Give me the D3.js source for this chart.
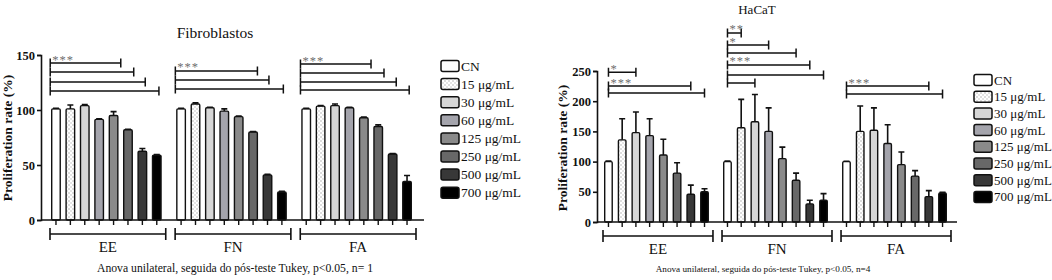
<!DOCTYPE html>
<html>
<head>
<meta charset="utf-8">
<script src="https://cdn.jsdelivr.net/npm/d3@7"></script>
<style>
  body { margin: 0; background: #fff; }
  svg text { font-family: "Liberation Serif", "Times New Roman", serif; fill: #111; }
</style>
</head>
<body>
<div id="chart"></div>
<script>
// categories
const groups = ["EE", "FN", "FA"];
const doses = ["CN", "15 μg/mL", "30 μg/mL", "60 μg/mL", "125 μg/mL", "250 μg/mL", "500 μg/mL", "700 μg/mL"];
const doseColors = ["#ffffff", "#ffffff", "#d6d6d6", "#a4a4ac", "#8a8a8a", "#686868", "#383838", "#000000"];

// Fibroblastos (n = 1)
const fibroTicks = [0, 50, 100, 150];
const fibroEE = [101, 101, 104, 91.5, 95, 82, 62.5, 59];
const fibroEEErr = [0.5, 3.5, 1, 0.5, 3.5, 0.5, 2.5, 0.5];
const fibroFN = [101, 105.5, 102, 99, 94, 80, 41, 25.5];
const fibroFNErr = [0.5, 1, 0.5, 2, 0.5, 0.5, 0.5, 0.5];
const fibroFA = [101, 103.5, 104, 102, 93, 85, 60, 35];
const fibroFAErr = [0.5, 0.5, 1.5, 0.5, 0.5, 1.5, 0.5, 5.5];
const fibroBrackets = [
  { group: "EE", level: 142.7, from: -0.4, to: 4.5, stars: "***" },
  { group: "EE", level: 134.5, from: -0.4, to: 5.4, stars: "" },
  { group: "EE", level: 125.5, from: -0.4, to: 6.2, stars: "" },
  { group: "EE", level: 117.3, from: -0.4, to: 7.15, stars: "" },
  { group: "FN", level: 135.5, from: -0.4, to: 5.3, stars: "***" },
  { group: "FN", level: 127.3, from: -0.4, to: 6.1, stars: "" },
  { group: "FN", level: 119, from: -0.4, to: 7.1, stars: "" },
  { group: "FA", level: 141.8, from: -0.4, to: 4.5, stars: "***" },
  { group: "FA", level: 133.6, from: -0.4, to: 5.4, stars: "" },
  { group: "FA", level: 125.5, from: -0.4, to: 6.25, stars: "" },
  { group: "FA", level: 118.2, from: -0.4, to: 7.15, stars: "" }
];

// HaCaT (n = 4)
const hacatTicks = [0, 50, 100, 150, 200, 250];
const hacatEE = [100, 136, 148, 143, 111, 81, 46, 50];
const hacatEEErr = [1, 35, 34, 28, 26, 17, 15, 5];
const hacatFN = [100, 156, 166, 150, 105, 69, 30, 36];
const hacatFNErr = [1, 47, 45, 39, 19, 12, 6, 11];
const hacatFA = [100, 150, 152, 130, 95, 76, 42, 48];
const hacatFAErr = [0.5, 42, 37, 31, 21, 9, 10, 1];
const hacatBrackets = [
  { group: "EE", level: 248, from: 0, to: 2, stars: "*" },
  { group: "EE", level: 225, from: 0, to: 6, stars: "***" },
  { group: "EE", level: 213.5, from: 0, to: 7, stars: "" },
  { group: "FN", level: 313, from: 0, to: 1, stars: "**" },
  { group: "FN", level: 293, from: 0, to: 3, stars: "*" },
  { group: "FN", level: 280, from: 0, to: 5, stars: "" },
  { group: "FN", level: 260, from: 0, to: 6, stars: "***" },
  { group: "FN", level: 243.5, from: 0, to: 7, stars: "" },
  { group: "FN", level: 230, from: 0, to: 2, stars: "" },
  { group: "FA", level: 225, from: 0, to: 6, stars: "***" },
  { group: "FA", level: 212, from: 0, to: 7, stars: "" }
];

const svg = d3.select("#chart").append("svg")
  .attr("width", 1052).attr("height", 280);

// dotted fill for the 15 μg/mL bars
const pat = svg.append("defs").append("pattern")
  .attr("id", "dots").attr("patternUnits", "userSpaceOnUse")
  .attr("width", 4).attr("height", 4);
pat.append("rect").attr("width", 4).attr("height", 4).attr("fill", "#fff");
pat.append("rect").attr("x", 0.5).attr("y", 0.5).attr("width", 1).attr("height", 1).attr("fill", "#777");
pat.append("rect").attr("x", 2.5).attr("y", 2.5).attr("width", 1).attr("height", 1).attr("fill", "#999");

function fillFor(i) { return i == 1 ? "url(#dots)" : doseColors[i]; }

function drawPanel(cfg) {
  let g = svg.append("g");

  let y = d3.scaleLinear().domain([0, cfg.max]).range([cfg.base, cfg.top]);
  let x0 = d3.scaleBand().domain(groups)
    .range([cfg.left, cfg.right]).paddingInner(cfg.groupPad).paddingOuter(0);
  let x1 = d3.scaleBand().domain(d3.range(doses.length))
    .range([0, x0.bandwidth()]).paddingInner(cfg.barPad).paddingOuter(0);
  let bw = x1.bandwidth();
  let barX = (grp, i) => x0(grp) + i * x1.step();   // fractional index allowed

  // title
  g.append("text").attr("x", cfg.titleX).attr("y", cfg.titleY)
    .attr("text-anchor", "middle").style("font-size", cfg.titleSize + "px")
    .text(cfg.title);

  // y axis
  let yAxis = g.append("g").attr("transform", "translate(" + cfg.axisX + ",0)")
    .call(d3.axisLeft(y).tickValues(cfg.ticks).tickSize(4).tickPadding(2));
  yAxis.select(".domain").attr("stroke", "#111").attr("stroke-width", 1.6);
  yAxis.selectAll(".tick line").attr("stroke", "#111").attr("stroke-width", 1.6);
  yAxis.selectAll(".tick text")
    .style("font-family", '"Liberation Serif", serif')
    .style("font-weight", "bold").style("font-size", "12.5px").attr("fill", "#111");

  g.append("text")
    .attr("transform", "translate(" + cfg.labelX + "," + cfg.labelY + ") rotate(-90)")
    .attr("text-anchor", "middle").style("font-weight", "bold").style("font-size", "13.5px")
    .text("Proliferation rate (%)");

  // bars
  cfg.series.forEach((s, gi) => {
    let grp = groups[gi];
    let bars = g.append("g");
    bars.selectAll("rect").data(s.mean).enter().append("rect")
      .attr("x", (d, i) => barX(grp, i) + 0.7)
      .attr("width", bw - 1.4)
      .attr("y", d => y(d))
      .attr("height", d => cfg.base - y(d))
      .attr("rx", 1.2)
      .attr("fill", (d, i) => fillFor(i))
      .attr("stroke", "#111").attr("stroke-width", 1.4);

    // error bars (upward only)
    bars.selectAll("path.err").data(s.mean).enter().append("path")
      .attr("class", "err")
      .attr("d", (d, i) => {
        let cx = barX(grp, i) + bw / 2, top = y(d + s.err[i]);
        return "M" + cx + "," + y(d) + "V" + top + "M" + (cx - 3) + "," + top + "H" + (cx + 3);
      })
      .attr("fill", "none").attr("stroke", "#111").attr("stroke-width", 1.6);

    // ticks under the axis
    bars.selectAll("line.tk").data(s.mean).enter().append("line")
      .attr("x1", (d, i) => barX(grp, i) + bw / 2).attr("x2", (d, i) => barX(grp, i) + bw / 2)
      .attr("y1", cfg.base).attr("y2", cfg.base + 5)
      .attr("stroke", "#111").attr("stroke-width", 1.4);

    // group bracket and label
    let bx0 = x0(grp) - 1, bx1 = x0(grp) + x0.bandwidth() + 4, by = cfg.base + 14;
    g.append("path")
      .attr("d", "M" + bx0 + "," + (by - 6) + "V" + (by + 6) + "M" + bx0 + "," + by + "H" + bx1 +
        "M" + bx1 + "," + (by - 6) + "V" + (by + 6))
      .attr("fill", "none").attr("stroke", "#111").attr("stroke-width", 1.6);
    g.append("text").attr("x", (bx0 + bx1) / 2).attr("y", cfg.base + 32)
      .attr("text-anchor", "middle").style("font-size", "15px").text(grp);
  });

  // x baseline
  g.append("line").attr("x1", cfg.axisX).attr("x2", cfg.axisEnd)
    .attr("y1", cfg.base).attr("y2", cfg.base)
    .attr("stroke", "#111").attr("stroke-width", 1.6);

  // significance brackets
  let sig = g.append("g");
  cfg.brackets.forEach(b => {
    let xa = barX(b.group, b.from) + bw / 2, xb = barX(b.group, b.to) + bw / 2, yy = y(b.level);
    sig.append("path")
      .attr("d", "M" + xa + "," + (yy - 4.5) + "V" + (yy + 4.5) + "M" + xa + "," + yy + "H" + xb +
        "M" + xb + "," + (yy - 4.5) + "V" + (yy + 4.5))
      .attr("fill", "none").attr("stroke", "#111").attr("stroke-width", 1.5);
    if (b.stars) {
      sig.append("text").attr("x", xa + 2).attr("y", yy + 0.5)
        .style("font-size", "12.5px").style("letter-spacing", "1px")
        .style("fill", "#6e6e6e").text(b.stars);
    }
  });

  // legend
  let leg = g.append("g");
  doses.forEach((d, i) => {
    let ly = cfg.legY + i * cfg.legStep;
    leg.append("rect").attr("x", cfg.legX).attr("y", ly - 5.5)
      .attr("width", 18).attr("height", 11).attr("rx", 2)
      .attr("fill", fillFor(i)).attr("stroke", "#111").attr("stroke-width", 1.5);
    leg.append("text").attr("x", cfg.legX + 20).attr("y", ly + 4.5)
      .style("font-size", cfg.legSize + "px").text(d);
  });

  // footnote
  g.append("text").attr("x", cfg.noteX).attr("y", 272)
    .attr("text-anchor", "middle").style("font-size", cfg.noteSize + "px")
    .text(cfg.note);
}

drawPanel({
  title: "Fibroblastos", titleX: 215, titleY: 38, titleSize: 15.5,
  max: 150, ticks: fibroTicks, base: 220, top: 55,
  left: 51, right: 412, groupPad: 0.115, barPad: 0.31,
  axisX: 41, axisEnd: 424, labelX: 12, labelY: 138,
  series: [
    { mean: fibroEE, err: fibroEEErr },
    { mean: fibroFN, err: fibroFNErr },
    { mean: fibroFA, err: fibroFAErr }
  ],
  brackets: fibroBrackets,
  legX: 441, legY: 66, legStep: 18.1, legSize: 13.5,
  noteX: 235, noteSize: 11.7,
  note: "Anova unilateral, seguida do pós-teste Tukey, p<0.05, n= 1"
});

drawPanel({
  title: "HaCaT", titleX: 757, titleY: 14, titleSize: 13,
  max: 250, ticks: hacatTicks, base: 222, top: 71,
  left: 604, right: 947, groupPad: 0.118, barPad: 0.35,
  axisX: 597, axisEnd: 957, labelX: 567, labelY: 148,
  series: [
    { mean: hacatEE, err: hacatEEErr },
    { mean: hacatFN, err: hacatFNErr },
    { mean: hacatFA, err: hacatFAErr }
  ],
  brackets: hacatBrackets,
  legX: 974, legY: 80, legStep: 16.7, legSize: 13,
  noteX: 763, noteSize: 9.2,
  note: "Anova unilateral, seguida do pós-teste Tukey, p<0.05, n=4"
});
</script>
</body>
</html>
